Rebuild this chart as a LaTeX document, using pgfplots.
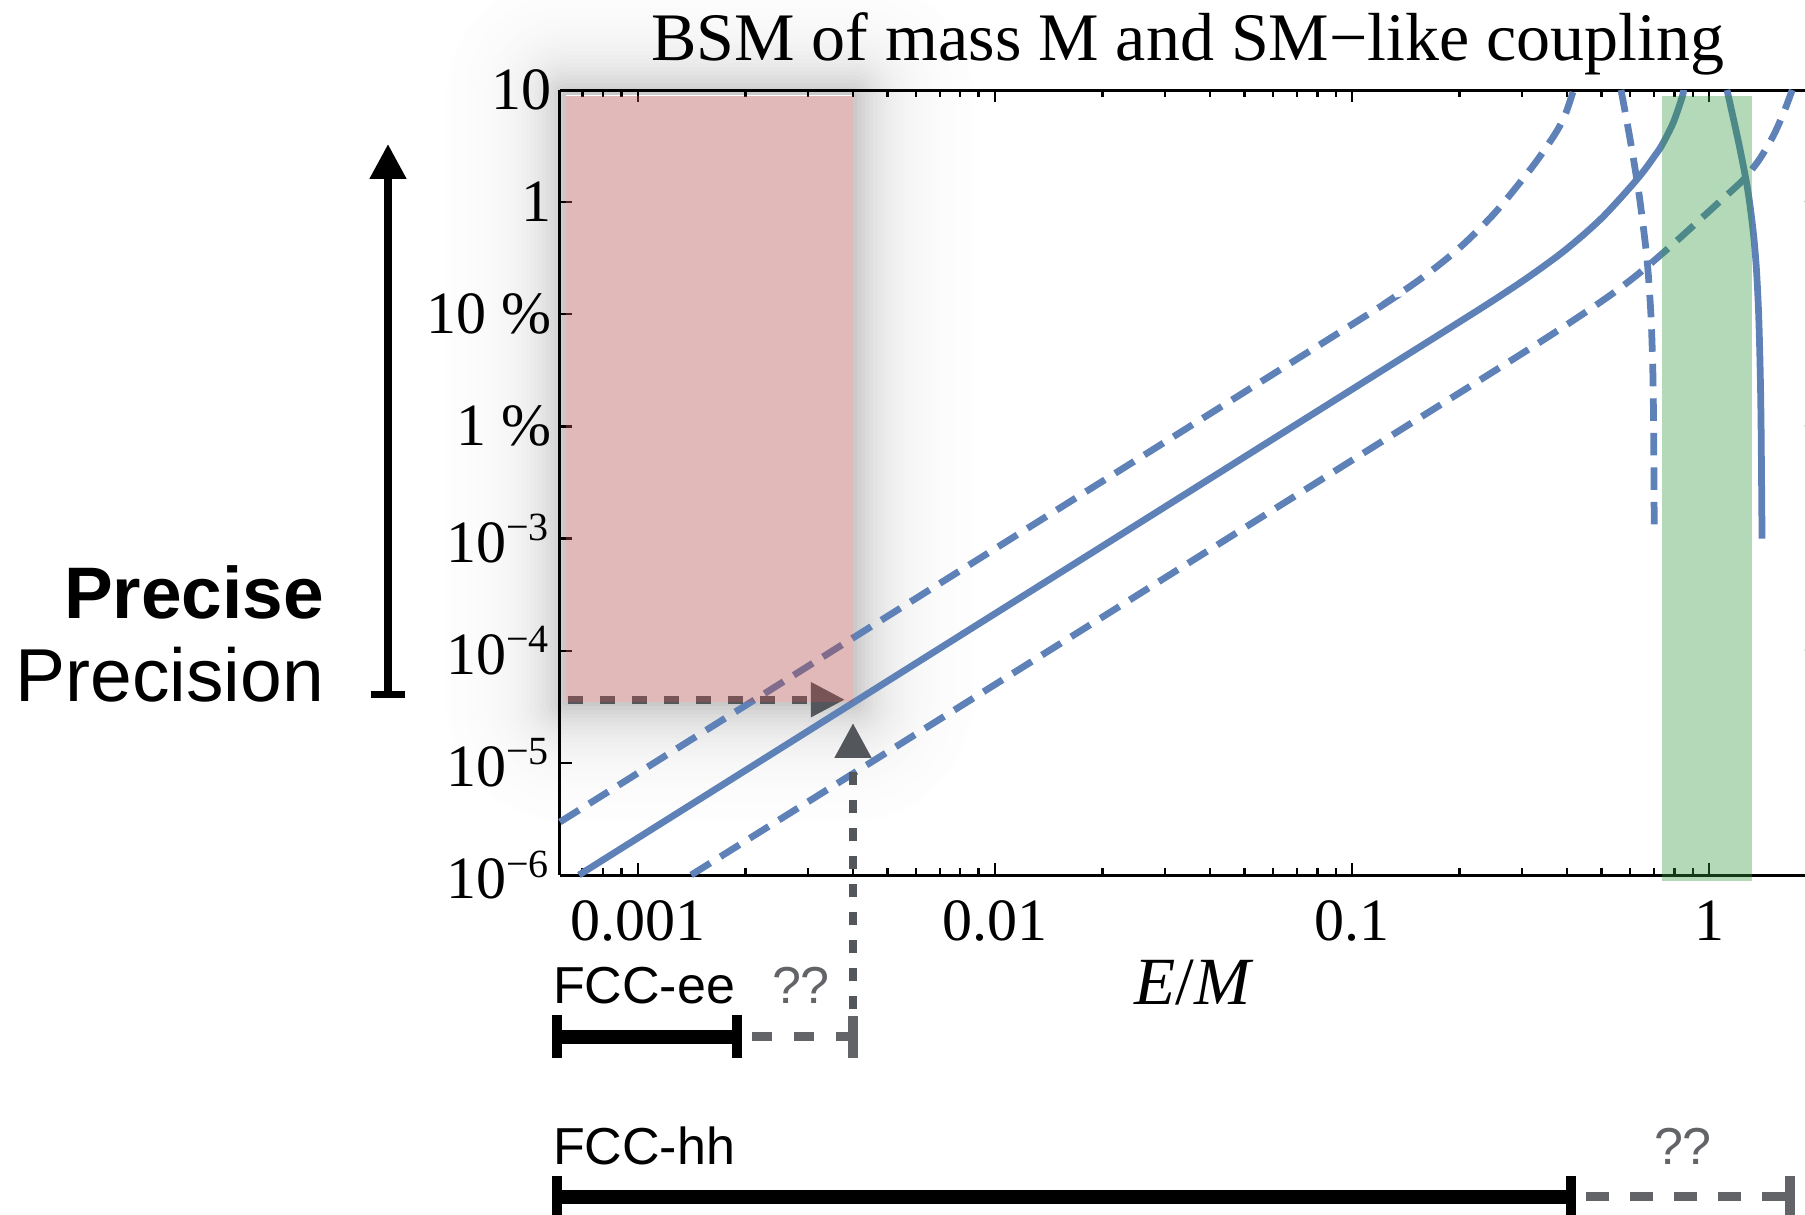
\documentclass[border=0pt]{standalone}
\usepackage{fontspec}
\setmainfont{Liberation Serif}
\setsansfont{Liberation Sans}
\usepackage{pgfplots}
\pgfplotsset{compat=1.18}
\usetikzlibrary{arrows.meta}
\definecolor{cblue}{RGB}{94,129,183}
\definecolor{cpink}{RGB}{180,80,79}
\definecolor{cgreen}{RGB}{51,153,63}
\definecolor{cgray}{RGB}{83,87,92}
\definecolor{cgrayl}{RGB}{98,100,104}
\begin{document}
\begin{tikzpicture}
\useasboundingbox (0,0) rectangle (361pt,-243pt);
\clip (0,0) rectangle (361pt,-243pt);
% soft shadow behind the pink box (opaque grey bands)
\begin{scope}[x=0.2pt,y=-0.2pt]
\foreach \k in {30,29,...,1}{
  \pgfmathsetmacro\p{22*exp(-(\k*4-2)/32)}
  \pgfmathsetmacro\d{\k*4}
  \fill[black!\p, rounded corners=\d*0.2pt] (566-\d,95.5-\d) rectangle (853+\d,702+\d);
}
\fill[white] (566,95.5) rectangle (853,702);
\end{scope}
\begin{axis}[
  at={(112pt,-175pt)}, anchor=south west,
  scale only axis, width=249pt, height=157pt,
  xmode=log, ymode=log,
  xmin=6.05e-4, xmax=1.857, ymin=1e-6, ymax=10,
  every non boxed y axis/.style={},
  axis x line=box, axis y line*=left,
  y axis line style={-},
  axis line style={line width=0.6pt},
  clip=false,
  xtick={0.001,0.01,0.1,1},
  xticklabels={0.001,0.01,0.1,1},
  minor xtick={0.0007,0.0008,0.0009,0.002,0.003,0.004,0.005,0.006,0.007,0.008,0.009,0.02,0.03,0.04,0.05,0.06,0.07,0.08,0.09,0.2,0.3,0.4,0.5,0.6,0.7,0.8,0.9},
  ytick={1e-6,1e-5,1e-4,1e-3,0.01,0.1,1,10},
  yticklabels={10\textsuperscript{−6},10\textsuperscript{−5},10\textsuperscript{−4},10\textsuperscript{−3},1 \%,10 \%,1,10},
  yminorticks=false,
  tick align=inside,
  major tick length=2.5pt, minor tick length=1.5pt,
  tick style={black, line width=0.45pt},
  xticklabel style={font=\fontsize{12}{14}\selectfont, yshift=-1.6pt},
  yticklabel style={font=\fontsize{12}{14}\selectfont, xshift=1.8pt},
]
% solid main branch
\addplot[cblue, line width=1.35pt, smooth] coordinates {
(6.84e-4,1e-6) (1e-3,2.14e-6) (1e-2,2.14e-4) (0.1,2.14e-2) (0.1585,0.0537) (0.1995,0.0851) (0.2512,0.1357) (0.3162,0.2213) (0.3981,0.380) (0.5012,0.7244) (0.6310,1.622) (0.7079,2.646) (0.7413,3.311) (0.7943,5.129) (0.8414,8.71) (0.848,10)};
% solid right branch
\addplot[cblue, line width=1.35pt, smooth] coordinates {
(1.1230,10) (1.169,5.623) (1.216,3.162) (1.269,1.585) (1.2985,1.0) (1.3334,0.5012) (1.3576,0.2512) (1.3771,0.1) (1.3908,0.03162) (1.3989,0.01) (1.4076,0.001)};
% upper dashed left
\addplot[cblue, line width=1.35pt, smooth, dash pattern=on 4.5pt off 2.4pt] coordinates {
(6.05e-4,2.97e-6) (1e-3,8.11e-6) (1e-2,8.11e-4) (0.1,0.0811) (0.1259,0.130) (0.1585,0.2158) (0.1995,0.388) (0.2512,0.8017) (0.3162,1.968) (0.3548,3.285) (0.3802,4.656) (0.3981,6.353) (0.4174,10)};
% upper dashed right
\addplot[cblue, line width=1.35pt, smooth, dash pattern=on 4.5pt off 2.4pt] coordinates {
(0.5669,10) (0.5865,5.623) (0.6056,3.162) (0.6241,1.778) (0.6412,1.0) (0.6699,0.3162) (0.6874,0.1) (0.6959,0.03162) (0.6994,0.01) (0.7023,1.26e-3)};
% lower dashed
\addplot[cblue, line width=1.35pt, smooth, dash pattern=on 4.5pt off 2.4pt] coordinates {
(1.41e-3,1e-6) (0.01,4.99e-5) (0.1,4.99e-3) (0.3162,0.0499) (0.5012,0.1312) (0.631,0.2267) (0.7943,0.4246) (1.0,0.828) (1.2023,1.413) (1.2589,1.637) (1.3804,2.377) (1.5136,3.908) (1.6218,6.383) (1.7099,10)};
% horizontal arrow (under pink)
\addplot[cgray, line width=1.6pt, dash pattern=on 3pt off 3.4pt, -{Triangle[width=6.6pt,length=6.8pt]}] coordinates {(6.37e-4,3.66e-5) (3.8e-3,3.66e-5)};
% pink box
\addplot[draw=none, fill=cpink, fill opacity=0.4] coordinates {(6.285e-4,3.5e-5) (0.004,3.5e-5) (0.004,8.93) (6.285e-4,8.93)};
% green band
\addplot[draw=none, fill=cgreen, fill opacity=0.37] coordinates {(0.738,8.85e-7) (1.32,8.85e-7) (1.32,8.93) (0.738,8.93)};
% tiny right ticks
\draw[line width=0.45pt] (rel axis cs:1,0.857143) -- ++(-0.7pt,0);
\draw[line width=0.45pt] (rel axis cs:1,0.571429) -- ++(-0.7pt,0);
\draw[line width=0.45pt] (rel axis cs:1,0.285714) -- ++(-0.7pt,0);
\end{axis}
\begin{scope}[x=0.2pt,y=-0.2pt]
\node[anchor=base, inner sep=0, font=\fontsize{13.6}{16}\selectfont] at (1188,61) {BSM of mass M and SM−like coupling};
\node[anchor=base, inner sep=0, font=\fontsize{13.5}{15}\selectfont] at (1194,1005) {\textit{E}/\textit{M}};
\node[anchor=base east, inner sep=0, font=\sffamily\bfseries\fontsize{14.6}{16}\selectfont] at (325,619) {Precise};
\node[anchor=base east, inner sep=0, font=\sffamily\fontsize{15}{17}\selectfont] at (325,702) {Precision};
\draw[line width=1.6pt, -{Triangle[width=7pt,length=7pt]}] (388,695) -- (388,144);
\draw[line width=1.4pt] (371,695) -- (405,695);
% vertical gray arrow
\draw[cgray, line width=1.6pt, dash pattern=on 2.6pt off 3pt, -{Triangle[width=7pt,length=7pt]}] (853,1037) -- (853,723);
% FCC-ee
\node[anchor=base west, inner sep=0, font=\sffamily\fontsize{10.4}{12}\selectfont] at (552,1004) {FCC-ee};
\node[anchor=base, inner sep=0, text=cgrayl, font=\sffamily\fontsize{10.4}{12}\selectfont] at (801,1004) {??};
\draw[line width=2.9pt] (557,1037) -- (737,1037);
\draw[line width=2pt] (557,1015) -- (557,1058);
\draw[line width=2pt] (737,1015) -- (737,1058);
\draw[cgrayl, line width=1.8pt, dash pattern=on 4pt off 4.4pt, dash phase=-3pt] (737,1037) -- (853,1037);
\draw[cgrayl, line width=2pt] (853,1016) -- (853,1058);
% FCC-hh
\node[anchor=base west, inner sep=0, font=\sffamily\fontsize{10.4}{12}\selectfont] at (552,1165) {FCC-hh};
\node[anchor=base, inner sep=0, text=cgrayl, font=\sffamily\fontsize{10.4}{12}\selectfont] at (1683,1165) {??};
\draw[line width=2.9pt] (557,1197) -- (1571,1197);
\draw[line width=2pt] (557,1176) -- (557,1225);
\draw[line width=2pt] (1571,1176) -- (1571,1225);
\draw[cgrayl, line width=1.8pt, dash pattern=on 4.6pt off 4.2pt, dash phase=-3pt] (1571,1197) -- (1790,1197);
\draw[cgrayl, line width=2pt] (1790,1176) -- (1790,1225);
\end{scope}
\end{tikzpicture}
\end{document}
